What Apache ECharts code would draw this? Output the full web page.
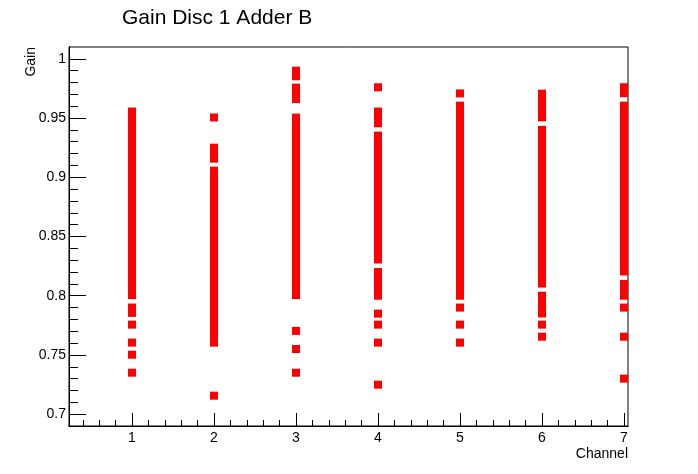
<!DOCTYPE html>
<html>
<head>
<meta charset="utf-8">
<script src="https://cdn.jsdelivr.net/npm/echarts@6/dist/echarts.min.js"></script>
<style>
  html, body { margin: 0; padding: 0; background: #fff; }
  #chart { width: 698px; height: 474px; }
</style>
</head>
<body>
<div id="chart"></div>
<script>
// channel numbers on the x axis
var channels = [1, 2, 3, 4, 5, 6, 7]

// gain values read per channel (dense runs are many overlapping markers)
var gainCh1 = [0.9555, 0.9508, 0.9461, 0.9412, 0.9365, 0.9318, 0.9270, 0.9222, 0.9175, 0.9128,
  0.9080, 0.9031, 0.8984, 0.8937, 0.8889, 0.8842, 0.8794, 0.8746, 0.8699, 0.8651, 0.8604, 0.8556,
  0.8508, 0.8461, 0.8413, 0.8366, 0.8318, 0.8271, 0.8223, 0.8176, 0.8128, 0.8081, 0.8040, 0.8005,
  0.7900, 0.7855, 0.7756, 0.7604, 0.7502, 0.7350]
var gainCh2 = [0.9505, 0.9250, 0.9205, 0.9157, 0.9056, 0.9010, 0.8961, 0.8915, 0.8867, 0.8820,
  0.8772, 0.8725, 0.8677, 0.8630, 0.8582, 0.8535, 0.8487, 0.8440, 0.8392, 0.8345, 0.8297, 0.8250,
  0.8202, 0.8155, 0.8107, 0.8060, 0.8012, 0.7965, 0.7917, 0.7870, 0.7822, 0.7775, 0.7727, 0.7680,
  0.7640, 0.7604, 0.7156]
var gainCh3 = [0.9900, 0.9853, 0.9757, 0.9710, 0.9660, 0.9504, 0.9457, 0.9409, 0.9362, 0.9314,
  0.9267, 0.9219, 0.9172, 0.9124, 0.9077, 0.9029, 0.8982, 0.8934, 0.8887, 0.8839, 0.8792, 0.8744,
  0.8697, 0.8649, 0.8602, 0.8554, 0.8507, 0.8459, 0.8412, 0.8364, 0.8317, 0.8269, 0.8222, 0.8174,
  0.8127, 0.8079, 0.8040, 0.8005, 0.7703, 0.7550, 0.7350]
var gainCh4 = [0.9760, 0.9555, 0.9505, 0.9456, 0.9352, 0.9305, 0.9257, 0.9210, 0.9162, 0.9115,
  0.9067, 0.9020, 0.8972, 0.8925, 0.8877, 0.8830, 0.8782, 0.8735, 0.8687, 0.8640, 0.8592, 0.8545,
  0.8497, 0.8450, 0.8402, 0.8355, 0.8306, 0.8200, 0.8152, 0.8105, 0.8050, 0.8000, 0.7849, 0.7756,
  0.7604, 0.7249]
var gainCh5 = [0.9708, 0.9605, 0.9557, 0.9510, 0.9462, 0.9415, 0.9367, 0.9320, 0.9272, 0.9225,
  0.9177, 0.9130, 0.9082, 0.9035, 0.8987, 0.8940, 0.8892, 0.8845, 0.8797, 0.8750, 0.8702, 0.8655,
  0.8607, 0.8560, 0.8512, 0.8465, 0.8417, 0.8370, 0.8322, 0.8275, 0.8227, 0.8180, 0.8132, 0.8085,
  0.8040, 0.8000, 0.7900, 0.7756, 0.7604]
var gainCh6 = [0.9706, 0.9655, 0.9605, 0.9556, 0.9506, 0.9400, 0.9352, 0.9305, 0.9257, 0.9210,
  0.9162, 0.9115, 0.9067, 0.9020, 0.8972, 0.8925, 0.8877, 0.8830, 0.8782, 0.8735, 0.8687, 0.8640,
  0.8592, 0.8545, 0.8497, 0.8450, 0.8402, 0.8355, 0.8307, 0.8260, 0.8212, 0.8165, 0.8140, 0.8103,
  0.8000, 0.7950, 0.7900, 0.7850, 0.7756, 0.7654]
var gainCh7 = [0.9760, 0.9710, 0.9605, 0.9557, 0.9510, 0.9462, 0.9415, 0.9367, 0.9320, 0.9272,
  0.9225, 0.9177, 0.9130, 0.9082, 0.9035, 0.8987, 0.8940, 0.8892, 0.8845, 0.8797, 0.8750, 0.8702,
  0.8655, 0.8607, 0.8560, 0.8512, 0.8465, 0.8417, 0.8370, 0.8322, 0.8275, 0.8250, 0.8205, 0.8100,
  0.8050, 0.8000, 0.7900, 0.7654, 0.7300]

// tick positions
var xMajorTicks = [1, 2, 3, 4, 5, 6, 7]
var xMinorTicks = [0.4, 0.6, 0.8, 1.2, 1.4, 1.6, 1.8, 2.2, 2.4, 2.6, 2.8, 3.2, 3.4, 3.6, 3.8,
  4.2, 4.4, 4.6, 4.8, 5.2, 5.4, 5.6, 5.8, 6.2, 6.4, 6.6, 6.8]
var yMajorTicks = [0.7, 0.75, 0.8, 0.85, 0.9, 0.95, 1]
var yMinorTicks = [0.71, 0.72, 0.73, 0.74, 0.76, 0.77, 0.78, 0.79, 0.81, 0.82, 0.83, 0.84,
  0.86, 0.87, 0.88, 0.89, 0.91, 0.92, 0.93, 0.94, 0.96, 0.97, 0.98, 0.99, 1.0]

var gainsByChannel = [gainCh1, gainCh2, gainCh3, gainCh4, gainCh5, gainCh6, gainCh7]

var points = []
channels.forEach(function (ch, i) {
  gainsByChannel[i].forEach(function (g) {
    points.push([ch, g])
  })
})

var font = 'Liberation Sans, Arial, Helvetica, sans-serif'
// x range picked so each channel falls on a whole pixel (keeps marker edges crisp)
var xMin = 0.23171, xMax = 7.04878
var yMin = 0.69, yMax = 1.01

function xAxisBase() {
  return {
    type: 'value',
    position: 'bottom',
    min: xMin,
    max: xMax,
    splitLine: { show: false },
    axisLine: { show: true, onZero: false, lineStyle: { color: '#000', width: 1 } }
  }
}
function yAxisBase() {
  return {
    type: 'value',
    position: 'left',
    min: yMin,
    max: yMax,
    splitLine: { show: false },
    axisLine: { show: true, onZero: false, lineStyle: { color: '#000', width: 1 } }
  }
}

var xMain = xAxisBase()
xMain.axisTick = { show: true, inside: true, length: 13, customValues: xMajorTicks, lineStyle: { color: '#000' } }
xMain.axisLabel = { show: true, customValues: xMajorTicks, margin: 5, color: '#000', fontSize: 14, fontFamily: font }

var xMinor = xAxisBase()
xMinor.axisTick = { show: true, inside: true, length: 6, customValues: xMinorTicks, lineStyle: { color: '#000' } }
xMinor.axisLabel = { show: false }

var yMain = yAxisBase()
yMain.axisTick = { show: true, inside: true, length: 17, customValues: yMajorTicks, lineStyle: { color: '#000' } }
yMain.axisLabel = { show: true, customValues: yMajorTicks, margin: 3, color: '#000', fontSize: 14, fontFamily: font }

var yMinor = yAxisBase()
yMinor.axisTick = { show: true, inside: true, length: 9, customValues: yMinorTicks, lineStyle: { color: '#000' } }
yMinor.axisLabel = { show: false }

var myChart = echarts.init(document.getElementById('chart'), null, { renderer: 'canvas' })
myChart.setOption({
  animation: false,
  backgroundColor: '#fff',
  title: {
    text: 'Gain Disc 1 Adder B',
    left: 122,
    top: 8,
    padding: 0,
    textStyle: { color: '#000', fontSize: 21, fontWeight: 'normal', fontFamily: font }
  },
  grid: {
    left: 69, right: 70, top: 47, bottom: 48,
    show: true, borderColor: '#000', borderWidth: 1, backgroundColor: '#fff'
  },
  xAxis: [xMain, xMinor],
  yAxis: [yMain, yMinor],
  graphic: [
    {
      type: 'text', right: 70, top: 447,
      style: { text: 'Channel', fill: '#000', font: '14px ' + font, textAlign: 'right' }
    },
    {
      type: 'text', left: 24, top: 47, rotation: Math.PI / 2,
      style: { text: 'Gain', fill: '#000', font: '14px ' + font }
    }
  ],
  series: [
    {
      name: 'Gain',
      type: 'scatter',
      xAxisIndex: 0,
      yAxisIndex: 0,
      symbol: 'rect',
      symbolSize: 8,
      itemStyle: { color: '#ff0000', opacity: 1 },
      data: points
    }
  ]
})
</script>
</body>
</html>
